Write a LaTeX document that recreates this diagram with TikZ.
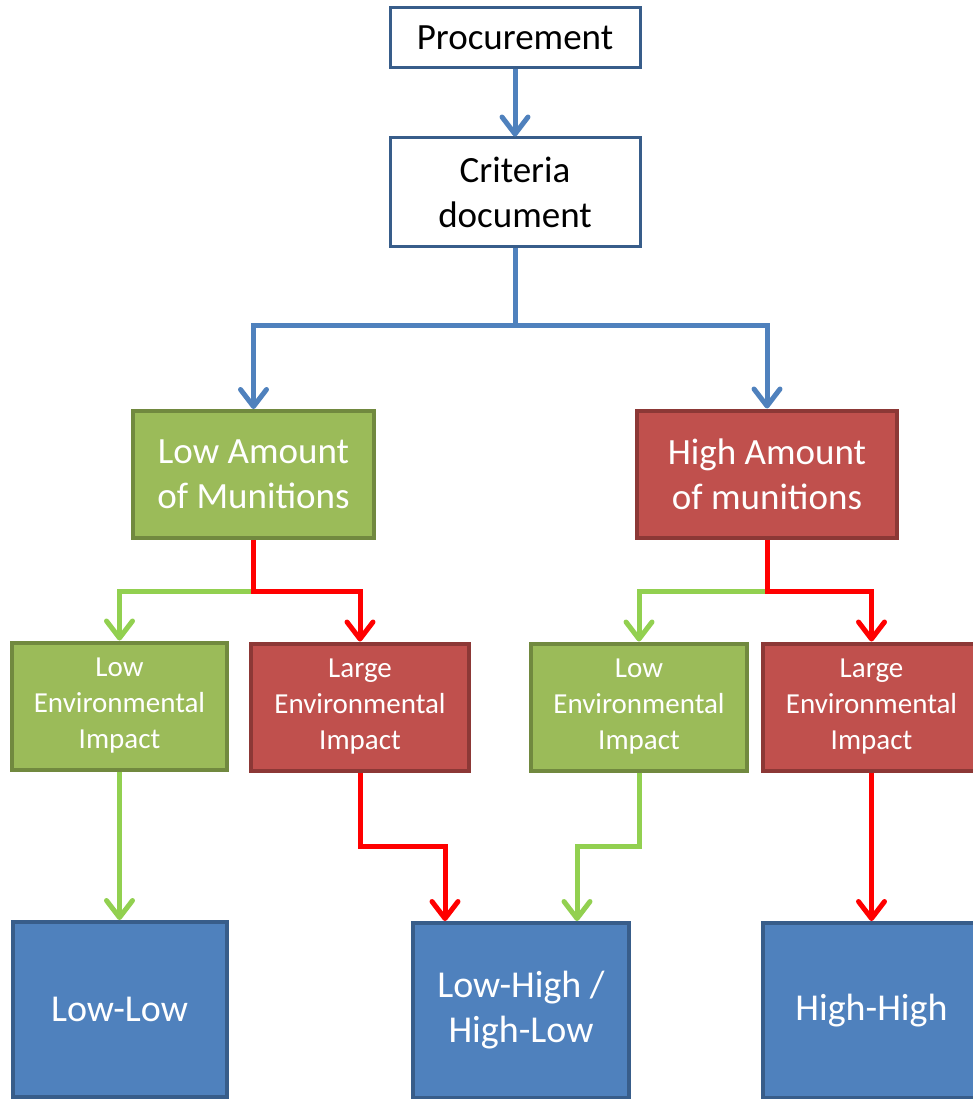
\documentclass[tikz,border=0pt]{standalone}
\usepackage{fontspec}
\setmainfont{Carlito}
\usepackage{tikz}
\usetikzlibrary{arrows.meta,positioning,calc}

\definecolor{boxblue}{HTML}{4F81BD}
\definecolor{boxblueline}{HTML}{385D8A}
\definecolor{boxgreen}{HTML}{9BBB59}
\definecolor{boxgreenline}{HTML}{71893F}
\definecolor{boxred}{HTML}{C0504D}
\definecolor{boxredline}{HTML}{8C3836}
\definecolor{linegreen}{HTML}{92D050}
\definecolor{linered}{HTML}{FF0000}

\begin{document}
\begin{tikzpicture}[
x=1pt, y=-1pt,
>={Straight Barb[length=17pt,width=26pt,round]},
plain-box/.style = {rectangle,draw=boxblueline,fill=white,line width=3pt,align=center,
  font=\fontsize{37}{45}\selectfont,text=black,inner sep=0pt},
big-green/.style = {rectangle,draw=boxgreenline,fill=boxgreen,line width=4pt,align=center,
  font=\fontsize{37}{45}\selectfont,text=white,inner sep=0pt,minimum height=127pt},
big-red/.style = {big-green,draw=boxredline,fill=boxred},
env-green/.style = {big-green,font=\fontsize{29}{36}\selectfont,minimum height=127pt},
env-red/.style = {env-green,draw=boxredline,fill=boxred},
end-box/.style = {rectangle,draw=boxblueline,fill=boxblue,line width=4pt,align=center,
  font=\fontsize{38}{45}\selectfont,text=white,inner sep=0pt,minimum height=175pt},
blue-line/.style = {draw=boxblue,line width=5pt,->},
green-line/.style = {draw=linegreen,line width=5pt,->},
red-line/.style = {draw=linered,line width=5pt,->}
]
\useasboundingbox (0,0) rectangle (973,1099);

\node [plain-box,minimum width=250pt,minimum height=60pt] (proc) at (515,38) {Procurement};
\node [plain-box,minimum width=250pt,minimum height=108pt] (crit) at (515,192) {Criteria\\document};

\node [big-green,minimum width=241pt] (lowam) at (253.5,474.5) {Low Amount\\of Munitions};
\node [big-red,minimum width=260pt] (higham) at (767,474) {High Amount\\of munitions};

\node [env-green,minimum width=215pt] (lol) at (119.5,706) {Low\\Environmental\\Impact};
\node [env-red,minimum width=218pt] (lel) at (360,707) {Large\\Environmental\\Impact};
\node [env-green,minimum width=216pt] (hol) at (639,707) {Low\\Environmental\\Impact};
\node [env-red,minimum width=217pt] (hel) at (871.5,707) {Large\\Environmental\\Impact};

\node [end-box,minimum width=214pt] (lowlow) at (119.5,1009.5) {Low-Low};
\node [end-box,minimum width=216pt] (lowhigh) at (521,1010.5) {Low-High /\\High-Low};
\node [end-box,minimum width=217pt] (highhigh) at (871.5,1010.5) {High-High};

% junctions
\coordinate (split-top) at (515,325);
\coordinate (split-low) at (253.5,591);
\coordinate (split-high) at (767,591);
\coordinate (kink-red) at (445,846);
\coordinate (kink-green) at (577,846);

% arrows
\draw[blue-line] (proc) -- (crit);
\draw[blue-line,-] (crit.south) -- (split-top);
\draw[blue-line] (split-top) -| (lowam.north);
\draw[blue-line] (split-top) -| (higham.north);

\draw[green-line] (split-low) -| (lol.north);
\draw[red-line] (lowam.south) -- (split-low) -| (lel.north);
\draw[green-line] (split-high) -| (hol.north);
\draw[red-line] (higham.south) -- (split-high) -| (hel.north);

\draw[green-line] (lol.south) -- (lowlow.north);
\draw[red-line] (lel.south) |- (kink-red) -- (kink-red |- lowhigh.north);
\draw[green-line] (hol.south) |- (kink-green) -- (kink-green |- lowhigh.north);
\draw[red-line] (hel.south) -- (highhigh.north);

\end{tikzpicture}
\end{document}
